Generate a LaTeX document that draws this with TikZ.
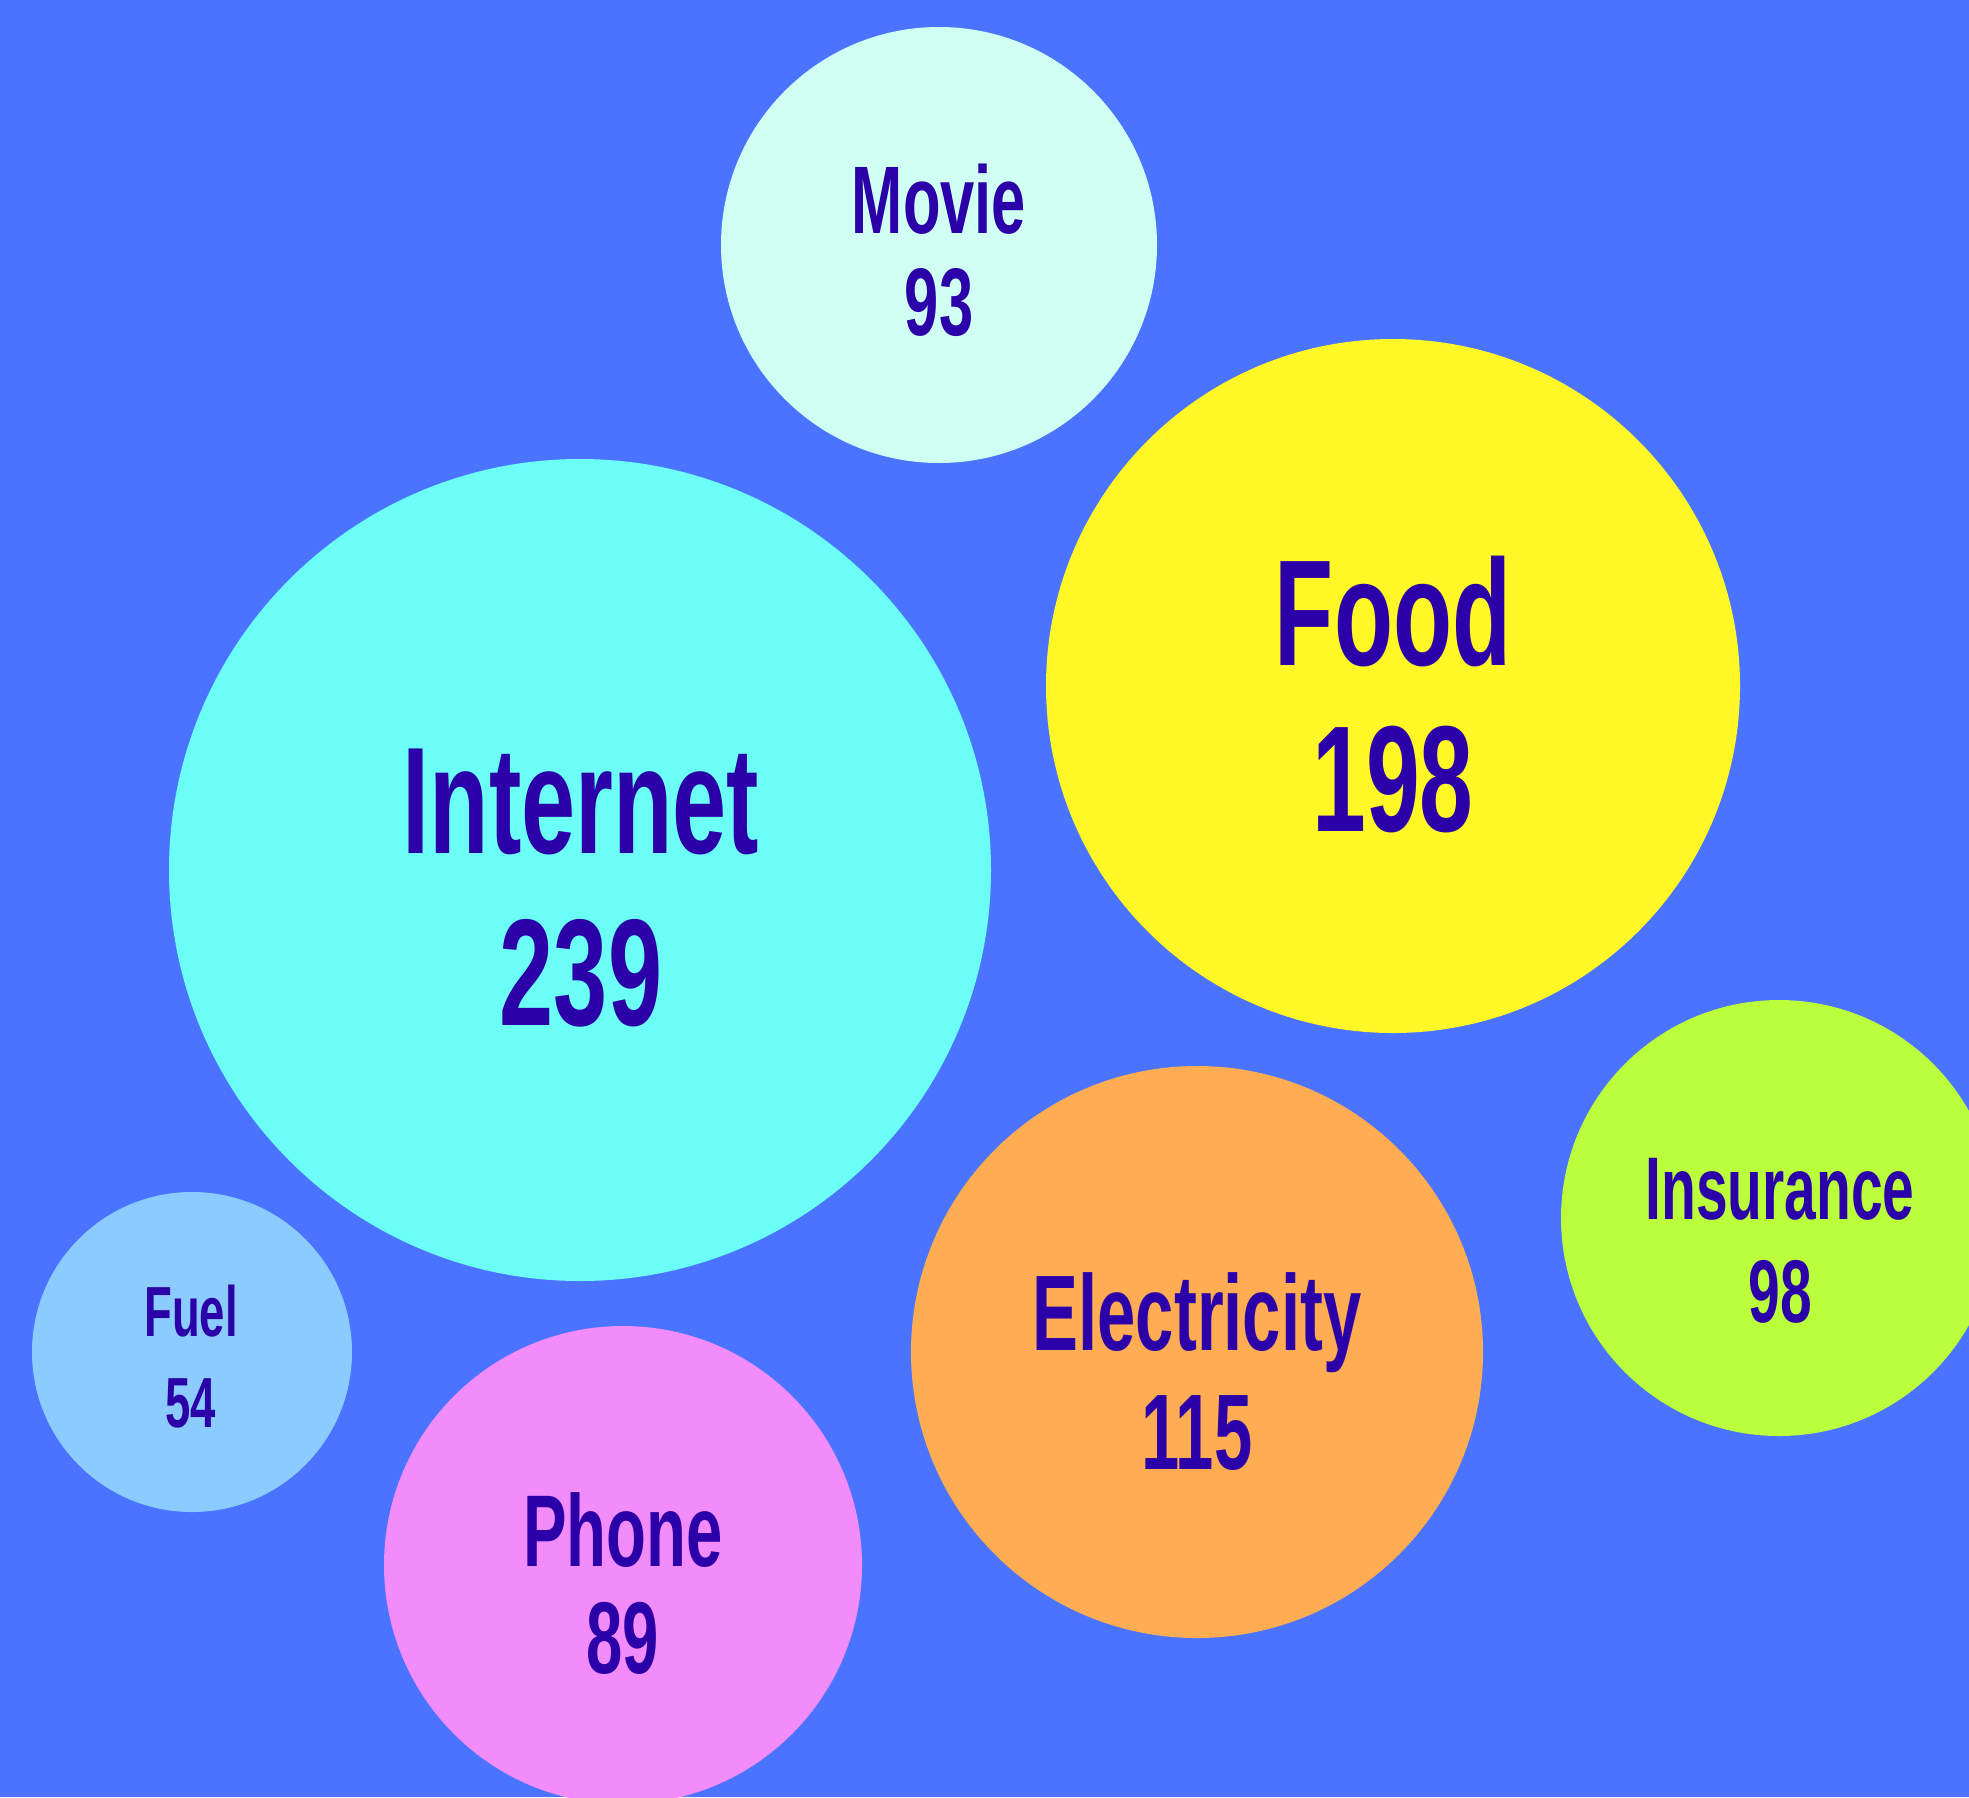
\documentclass[tikz,border=0pt]{standalone}
\usepackage{fontspec}
\setmainfont{Liberation Sans}[FakeStretch=0.64]
\definecolor{bg}{HTML}{4A74FF}
\definecolor{txt}{HTML}{2B00A8}
\definecolor{cmovie}{HTML}{D0FFF4}
\definecolor{cfood}{HTML}{FFF726}
\definecolor{cinternet}{HTML}{6BFFF8}
\definecolor{cinsurance}{HTML}{BBFF3C}
\definecolor{celec}{HTML}{FFAC52}
\definecolor{cfuel}{HTML}{8CCBFF}
\definecolor{cphone}{HTML}{F38CFB}
\tikzset{
  bubble/.style={circle, inner sep=0pt, draw=none},
  lbl/.style={anchor=base, inner sep=0pt, text=txt, font=\bfseries\fontsize{#1}{#1}\selectfont}
}
\begin{document}
\begin{tikzpicture}[x=1pt,y=-1pt]
\useasboundingbox (0,0) rectangle (1969,1797);
\clip (0,0) rectangle (1969,1797);
\fill[bg] (0,0) rectangle (1969,1797);
% bubbles
\node[bubble, fill=cmovie, minimum size=436pt] (movie) at (939,245) {};
\node[bubble, fill=cfood, minimum size=694pt] (food) at (1393,686) {};
\node[bubble, fill=cinternet, minimum size=822pt] (internet) at (580,870) {};
\node[bubble, fill=cinsurance, minimum size=436pt] (insurance) at (1779,1218) {};
\node[bubble, fill=celec, minimum size=572pt] (elec) at (1197,1352) {};
\node[bubble, fill=cfuel, minimum size=320pt] (fuel) at (192,1352) {};
\node[bubble, fill=cphone, minimum size=478pt] (phone) at (623,1565) {};
% labels
\node[lbl=96] (movieT) at (939,233.6) {Movie};
\node[lbl=96] (movieV) at (939,335) {93};
\node[lbl=151] (foodT) at (1393,665.5) {Food};
\node[lbl=151] (foodV) at (1393,831) {198};
\node[lbl=152] (internetT) at (581,853) {Internet};
\node[lbl=152] (internetV) at (581,1025) {239};
\node[lbl=89] (insuranceT) at (1780,1219) {Insurance};
\node[lbl=89] (insuranceV) at (1780,1322) {98};
\node[lbl=107.5] (elecT) at (1197,1350) {Electricity};
\node[lbl=107.5] (elecV) at (1197,1469) {115};
\node[lbl=71] (fuelT) at (191,1336) {Fuel};
\node[lbl=71] (fuelV) at (191,1427) {54};
\node[lbl=102] (phoneT) at (623,1566) {Phone};
\node[lbl=102] (phoneV) at (623,1673) {89};
\end{tikzpicture}
\end{document}
